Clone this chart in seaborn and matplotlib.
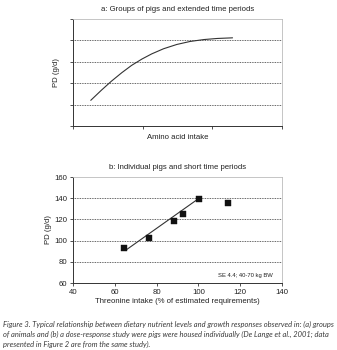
import matplotlib
matplotlib.use("Agg")
import matplotlib.pyplot as plt
import seaborn as sns
import pandas as pd

sns.set_theme(style="white")
plt.rcParams['font.family'] = ['Liberation Sans', 'DejaVu Sans']

# Panel a: group response curve (arbitrary units)
intake_a = [0.255, 0.41, 0.55, 0.70, 0.84, 0.99, 1.13, 1.30, 1.49, 1.68, 1.88, 2.07, 2.29]
pd_a = [1.20, 1.68, 2.09, 2.49, 2.83, 3.13, 3.37, 3.61, 3.81, 3.95, 4.04, 4.09, 4.12]

# Panel b: individual pigs, threonine dose-response
threonine = [64.5, 76.5, 88.3, 92.6, 100.3, 114.3]
pd_b = [92.7, 102.7, 118.2, 124.9, 139.0, 135.8]
fit_x = [65, 100]
fit_y = [90.6, 139.5]

title_a = "a: Groups of pigs and extended time periods"
title_b = "b: Individual pigs and short time periods"
xlabel_a = "Amino acid intake"
xlabel_b = "Threonine intake (% of estimated requirements)"
ylabel = "PD (g/d)"
note_b = "SE 4.4; 40-70 kg BW"
caption = [
    "Figure 3. Typical relationship between dietary nutrient levels and growth responses observed in: (a) groups",
    "of animals and (b) a dose-response study were pigs were housed individually (De Lange et al., 2001; data",
    "presented in Figure 2 are from the same study).",
]

W, H = 337, 350
fig = plt.figure(figsize=(W / 100, H / 100), dpi=100)
fig.patch.set_facecolor("white")

TXT = "#222222"
FS = 5.6


def make_axes(left, right, top, bottom):
    return fig.add_axes([left / W, 1 - bottom / H, (right - left) / W, (bottom - top) / H])


def style_axes(ax):
    ax.set_facecolor("white")
    for s in ("left", "bottom"):
        ax.spines[s].set_color("#333333")
        ax.spines[s].set_linewidth(0.7)
    for s in ("top", "right"):
        ax.spines[s].set_color("#bbbbbb")
        ax.spines[s].set_linewidth(0.6)
    ax.tick_params(direction="out", length=2.5, width=0.6, color="#333333",
                   labelsize=FS, labelcolor=TXT, pad=1.5, left=True, bottom=True)


# ---- panel a ----
ax1 = make_axes(73, 282, 19, 126)
style_axes(ax1)
df_a = pd.DataFrame({"x": intake_a, "y": pd_a})
sns.lineplot(data=df_a, x="x", y="y", ax=ax1, color="#333333", lw=0.8)
ax1.set_xlim(0, 3)
ax1.set_ylim(0, 5)
ax1.set_xticks([0, 1, 2, 3])
ax1.set_yticks([0, 1, 2, 3, 4, 5])
ax1.set_xticklabels([])
ax1.set_yticklabels([])
for yv in [1, 2, 3, 4]:
    ax1.axhline(yv, color="#333333", lw=0.6, ls=(0, (1, 1)), zorder=0)
ax1.set_xlabel(xlabel_a, fontsize=FS, color=TXT, labelpad=2)
ax1.set_ylabel(ylabel, fontsize=FS, color=TXT, labelpad=5)
ax1.set_title(title_a, fontsize=FS, color=TXT, pad=6)

# ---- panel b ----
ax2 = make_axes(73, 282, 177, 283)
style_axes(ax2)
df_b = pd.DataFrame({"x": threonine, "y": pd_b})
df_fit = pd.DataFrame({"x": fit_x, "y": fit_y})
sns.lineplot(data=df_fit, x="x", y="y", ax=ax2, color="#333333", lw=0.8, zorder=2)
sns.scatterplot(data=df_b, x="x", y="y", ax=ax2, marker="s", s=18, color="#111111",
                edgecolor="#111111", linewidth=0.3, zorder=3)
ax2.set_xlim(40, 140)
ax2.set_ylim(60, 160)
ax2.set_xticks([40, 60, 80, 100, 120, 140])
ax2.set_yticks([60, 80, 100, 120, 140, 160])
for yv in [80, 100, 120, 140]:
    ax2.axhline(yv, color="#333333", lw=0.6, ls=(0, (1, 1)), zorder=0)
ax2.text(0.957, 0.075, note_b, transform=ax2.transAxes, ha="right", va="center",
         fontsize=4.2, color=TXT)
ax2.set_xlabel(xlabel_b, fontsize=FS, color=TXT, labelpad=2)
ax2.set_ylabel(ylabel, fontsize=FS, color=TXT, labelpad=2)
ax2.set_title(title_b, fontsize=FS, color=TXT, pad=6)

# ---- caption ----
for i, line in enumerate(caption):
    fig.text(3 / W, 1 - (324.3 + 10 * i) / H, line, ha="left", va="center",
             fontsize=5.4, style="italic", color="#3a3a3a",
             family=["Lato", "DejaVu Sans"])

fig.savefig("out.png", dpi=100, facecolor="white")
